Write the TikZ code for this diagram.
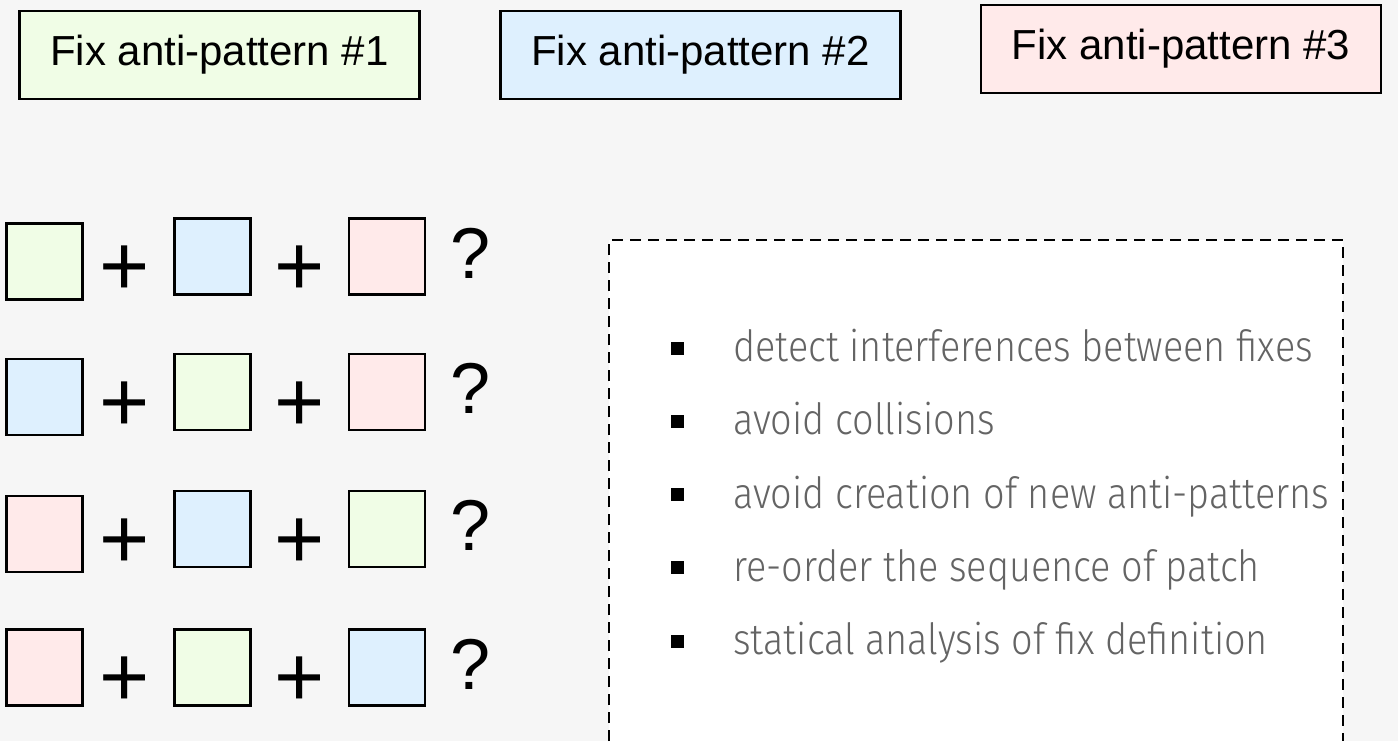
\documentclass[tikz,border=0pt]{standalone}
\usepackage{fontspec}
\setmainfont{Liberation Sans}
\newfontfamily\thinfont[FakeStretch=0.88]{Fira Sans Light}

\definecolor{canvas}{RGB}{246,246,246}
\definecolor{fixgreen}{RGB}{240,253,230}
\definecolor{fixblue}{RGB}{222,240,254}
\definecolor{fixred}{RGB}{255,234,234}
\definecolor{notegray}{RGB}{100,100,100}

\tikzset{
  fixbox/.style={draw, line width=1.2pt, minimum width=200pt, minimum height=44pt,
    inner sep=0pt, font=\fontsize{21}{25}\selectfont},
  piece/.style={draw, line width=1.2pt, minimum size=38pt, inner sep=0pt},
  plusop/.style={anchor=base, inner sep=0pt, font=\fontsize{43}{48}\selectfont},
  askmark/.style={anchor=base, inner sep=0pt, font=\fontsize{36}{40}\selectfont},
  bullet/.style={fill=black, minimum size=6.5pt, inner sep=0pt},
  remark/.style={anchor=base west, inner sep=0pt, text=notegray,
    font=\thinfont\fontsize{21.5}{26}\selectfont},
}

\begin{document}
\begin{tikzpicture}[x=0.5pt, y=-0.5pt]
  \useasboundingbox (0,0) rectangle (1398,741);
  \fill[canvas] (0,0) rectangle (1398,741);

  % the three fixes
  \node[fixbox, fill=fixgreen] (fix1) at (219.5,55) {Fix anti-pattern \#1};
  \node[fixbox, fill=fixblue] (fix2) at (700.5,55) {Fix anti-pattern \#2};
  \node[fixbox, fill=fixred] (fix3) at (1181,49) {Fix anti-pattern \#3};

  % possible orders of the fixes
  \foreach \row/\ya/\yb/\ca/\cb/\cc in {1/261.5/256.5/fixgreen/fixblue/fixred,
      2/397/392/fixblue/fixgreen/fixred,
      3/533.7/529/fixred/fixblue/fixgreen,
      4/667.5/667.5/fixred/fixgreen/fixblue} {
    \node[piece, fill=\ca] (sq\row a) at (44.3,\ya) {};
    \node[piece, fill=\cb] (sq\row b) at (212.5,\yb) {};
    \node[piece, fill=\cc] (sq\row c) at (387,\yb) {};
    \node[plusop] (plus\row a) at (125,\yb+39) {+};
    \node[plusop] (plus\row b) at (300,\yb+39) {+};
    \node[askmark] (ask\row) at (471,\yb+21.5) {?};
  }

  % notes
  \fill[white] (609,240) rectangle (1343,741);
  \draw[line width=1.4pt, dash pattern=on 5.5pt off 3.5pt]
    (609,741) -- (609,240) -- (1343,240) -- (1343,741);

  \foreach \txt [count=\i] in {detect interferences between fixes,
      avoid collisions, avoid creation of new anti-patterns,
      re-order the sequence of patch, statical analysis of fix definition} {
    \node[bullet] (bul\i) at (677,348+73.25*\i-73.25) {};
    \node[remark] (item\i) at (733,361.7+73.25*\i-73.25) {\txt};
  }
\end{tikzpicture}
\end{document}
